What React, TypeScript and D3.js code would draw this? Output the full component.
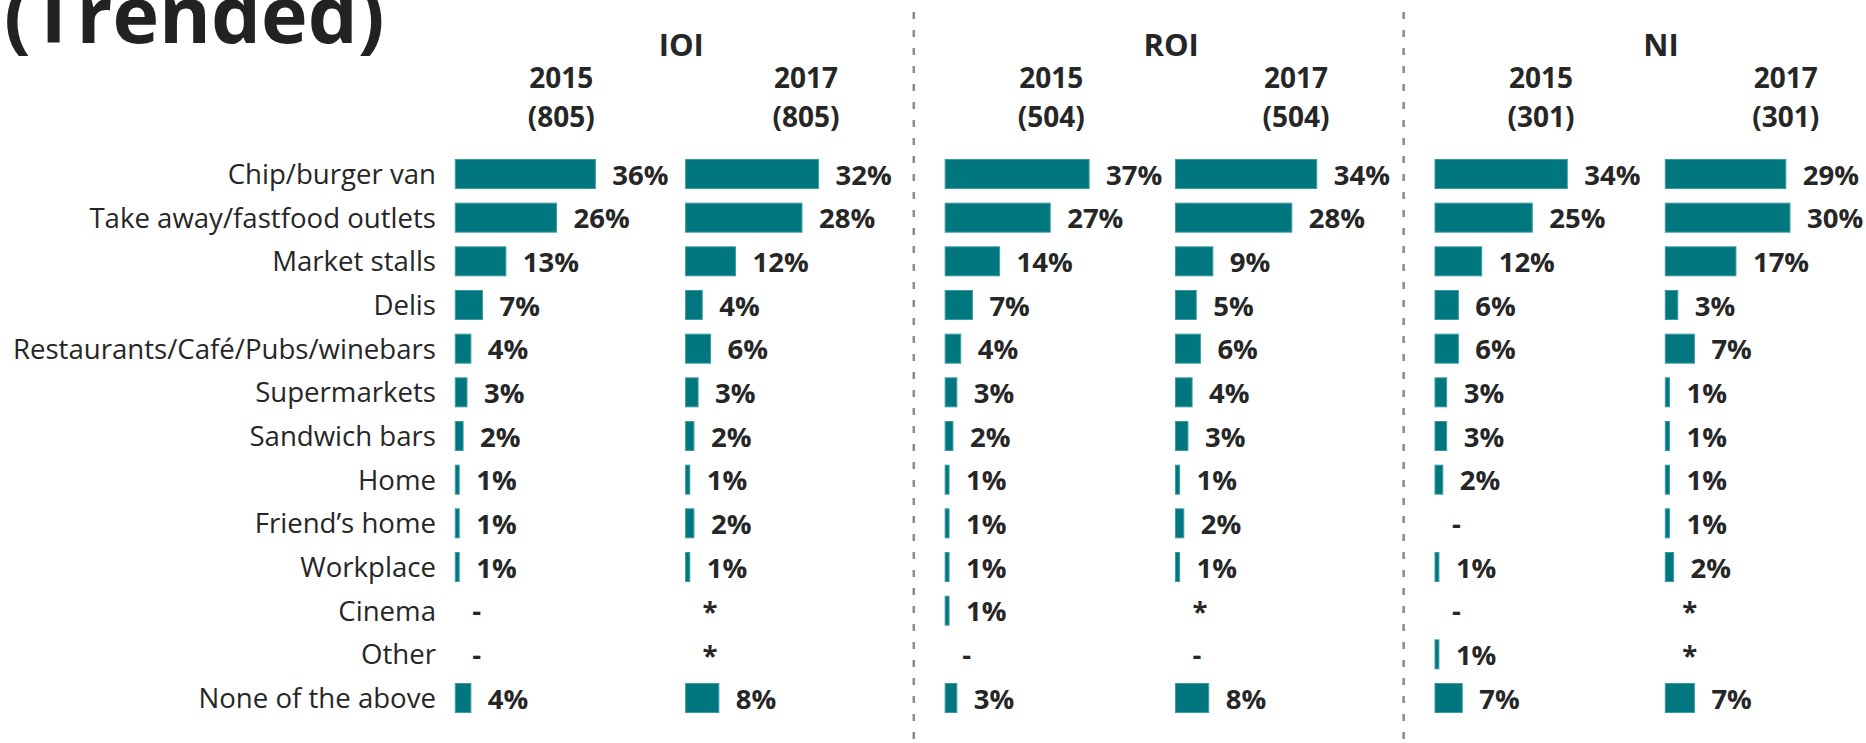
import React from "react";
import * as d3 from "d3";

type V = number | "*" | "-";

const categories: string[] = [
  "Chip/burger van",
  "Take away/fastfood outlets",
  "Market stalls",
  "Delis",
  "Restaurants/Café/Pubs/winebars",
  "Supermarkets",
  "Sandwich bars",
  "Home",
  "Friend’s home",
  "Workplace",
  "Cinema",
  "Other",
  "None of the above",
];

const regions: string[] = ["IOI", "ROI", "NI"];
const years: string[] = ["2015", "2017"];
const sampleSizes: number[][] = [
  [805, 805],
  [504, 504],
  [301, 301],
];

const ioi2015: V[] = [36, 26, 13, 7, 4, 3, 2, 1, 1, 1, "-", "-", 4];
const ioi2017: V[] = [32, 28, 12, 4, 6, 3, 2, 1, 2, 1, "*", "*", 8];
const roi2015: V[] = [37, 27, 14, 7, 4, 3, 2, 1, 1, 1, 1, "-", 3];
const roi2017: V[] = [34, 28, 9, 5, 6, 4, 3, 1, 2, 1, "*", "-", 8];
const ni2015: V[] = [34, 25, 12, 6, 6, 3, 3, 2, "-", 1, "-", 1, 7];
const ni2017: V[] = [29, 30, 17, 3, 7, 1, 1, 1, 1, 2, "*", "*", 7];

const series: V[][][] = [
  [ioi2015, ioi2017],
  [roi2015, roi2017],
  [ni2015, ni2017],
];

const FONT = "'Open Sans', 'Noto Sans', sans-serif";
const TEXT = "#262626";
const TEAL = "#00767e";

export default function App() {
  const W = 1866;
  const H = 743;
  const y = d3.scalePoint<string>().domain(categories).range([174, 698]);
  const panelX = d3.scaleLinear().domain([0, 2]).range([455.3, 1435]);
  const colOffset = 230.3;
  const xScales = [
    d3.scaleLinear().domain([0, 40]).range([0, 155.6]),
    d3.scaleLinear().domain([0, 40]).range([0, 166.2]),
  ];
  const headerOffsets = [106, 120.5];
  const barH = 29;
  const gap = 17;

  return (
    <div style={{ position: "absolute", left: 0, top: 0 }}>
      <svg width={W} height={H} style={{ display: "block", background: "#fff" }}>
        <text x={4} y={43} fontFamily={FONT} fontWeight={700} fontSize={79} fill="#222">
          (Trended)
        </text>
        {[0, 1].map((i) => (
          <line
            key={"div" + i}
            x1={panelX(i) + 458.5}
            x2={panelX(i) + 458.5}
            y1={12}
            y2={H}
            stroke="#8a8a8a"
            strokeWidth={2.5}
            strokeDasharray="7 11"
          />
        ))}
        {categories.map((c) => (
          <text
            key={c}
            x={436}
            y={(y(c) as number) + 10}
            textAnchor="end"
            fontFamily={FONT}
            fontSize={27.6}
            fill={TEXT}
          >
            {c}
          </text>
        ))}
        {regions.map((r, ri) => {
          const px = panelX(ri);
          return (
            <g key={r}>
              <text
                x={px + 226}
                y={55.7}
                textAnchor="middle"
                fontFamily={FONT}
                fontWeight={700}
                fontSize={31}
                fill={TEXT}
              >
                {r}
              </text>
              {years.map((yr, yi) => {
                const cx = px + yi * colOffset;
                const sc = xScales[yi];
                const vals = series[ri][yi];
                return (
                  <g key={yr}>
                    <text
                      x={cx + headerOffsets[yi]}
                      y={88.3}
                      textAnchor="middle"
                      fontFamily={FONT}
                      fontWeight={700}
                      fontSize={28}
                      fill={TEXT}
                    >
                      {yr}
                    </text>
                    <text
                      x={cx + headerOffsets[yi]}
                      y={126.7}
                      textAnchor="middle"
                      fontFamily={FONT}
                      fontWeight={700}
                      fontSize={28}
                      fill={TEXT}
                    >
                      ({sampleSizes[ri][yi]})
                    </text>
                    {categories.map((c, ci) => {
                      const v = vals[ci];
                      const cy = y(c) as number;
                      const isNum = typeof v === "number";
                      const w = isNum ? sc(v as number) : 0;
                      const label = isNum ? `${v}%` : (v as string);
                      return (
                        <g key={c}>
                          {isNum && (
                            <rect
                              x={cx}
                              y={cy - barH / 2}
                              width={w}
                              height={barH}
                              fill={TEAL}
                              stroke="#3a9ca3"
                              strokeWidth={1}
                            />
                          )}
                          <text
                            x={cx + w + gap}
                            y={cy + 10.5}
                            fontFamily={FONT}
                            fontWeight={700}
                            fontSize={27.5}
                            fill={TEXT}
                          >
                            {label}
                          </text>
                        </g>
                      );
                    })}
                  </g>
                );
              })}
            </g>
          );
        })}
      </svg>
    </div>
  );
}
